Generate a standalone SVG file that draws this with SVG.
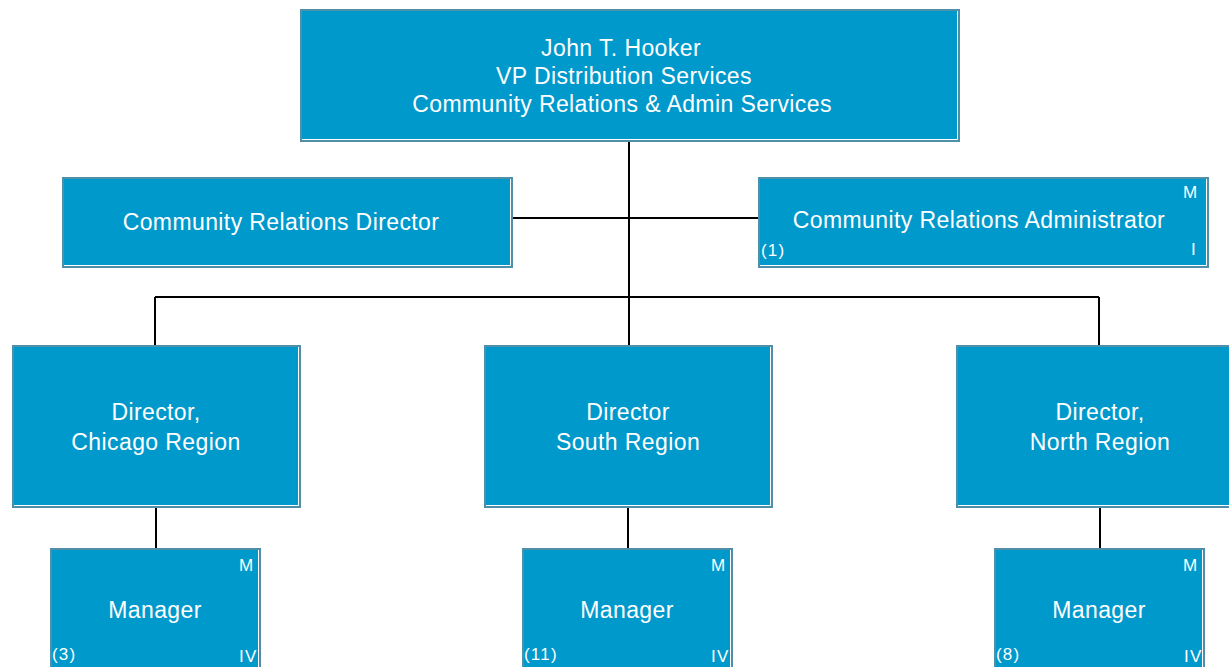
<svg xmlns="http://www.w3.org/2000/svg" width="1229" height="667" viewBox="0 0 1229 667">
<style>
.box{fill:#0099cc;stroke:#4f8fa8;stroke-width:2}
.hl{fill:none;stroke:#ffffff;stroke-width:1}
.t{font-family:"Liberation Sans",Arial,sans-serif;font-size:23px;letter-spacing:0.4px;fill:#ffffff;text-anchor:middle}
.s{font-family:"Liberation Sans",Arial,sans-serif;font-size:17px;letter-spacing:1.2px;fill:#ffffff}
.c{fill:none;stroke:#000000;stroke-width:2}
</style>
<rect width="1229" height="667" fill="#ffffff"/>
<g id="connectors">
<path class="c" d="M629 142V345M513 218H758M155 297H1099M155 297V345M1099 297V345M156 508V548M628 508V548M1100 508V548"/>
</g>
<g id="vp">
<rect class="box" x="301" y="10" width="658" height="131"/>
<path class="hl" d="M302 139.5H957.5V11"/>
<text class="t" x="621" y="56">John T. Hooker</text>
<text class="t" x="624" y="84">VP Distribution Services</text>
<text class="t" x="622" y="112">Community Relations &amp; Admin Services</text>
</g>
<g id="crd">
<rect class="box" x="63" y="178" width="449" height="89"/>
<path class="hl" d="M64 265.5H510.5V179"/>
<text class="t" x="281" y="230">Community Relations Director</text>
</g>
<g id="cra">
<rect class="box" x="759" y="178" width="449" height="89"/>
<path class="hl" d="M760 265.5H1206.5V179"/>
<text class="t" x="979" y="228">Community Relations Administrator</text>
<text class="s" x="1183" y="198">M</text>
<text class="s" x="1191" y="255">I</text>
<text class="s" x="761" y="256">(1)</text>
</g>
<g id="dir-chicago">
<rect class="box" x="13" y="346" width="287" height="161"/>
<path class="hl" d="M14 505.5H298.5V347"/>
<text class="t" x="156" y="420">Director,</text>
<text class="t" x="156" y="450">Chicago Region</text>
</g>
<g id="dir-south">
<rect class="box" x="485" y="346" width="287" height="161"/>
<path class="hl" d="M486 505.5H770.5V347"/>
<text class="t" x="628" y="420">Director</text>
<text class="t" x="628" y="450">South Region</text>
</g>
<g id="dir-north">
<rect class="box" x="957" y="346" width="287" height="161"/>
<path class="hl" d="M958 505.5H1242.5V347"/>
<text class="t" x="1100" y="420">Director,</text>
<text class="t" x="1100" y="450">North Region</text>
</g>
<g id="mgr-chicago">
<rect class="box" x="51" y="549" width="209" height="130"/>
<path class="hl" d="M258.5 550V679"/>
<text class="t" x="155" y="618">Manager</text>
<text class="s" x="239" y="571">M</text>
<text class="s" x="239" y="662">IV</text>
<text class="s" x="52" y="660">(3)</text>
</g>
<g id="mgr-south">
<rect class="box" x="523" y="549" width="209" height="130"/>
<path class="hl" d="M730.5 550V679"/>
<text class="t" x="627" y="618">Manager</text>
<text class="s" x="711" y="571">M</text>
<text class="s" x="711" y="662">IV</text>
<text class="s" x="524" y="660">(11)</text>
</g>
<g id="mgr-north">
<rect class="box" x="995" y="549" width="209" height="130"/>
<path class="hl" d="M1202.5 550V679"/>
<text class="t" x="1099" y="618">Manager</text>
<text class="s" x="1183" y="571">M</text>
<text class="s" x="1184" y="662">IV</text>
<text class="s" x="996" y="660">(8)</text>
</g>
</svg>
